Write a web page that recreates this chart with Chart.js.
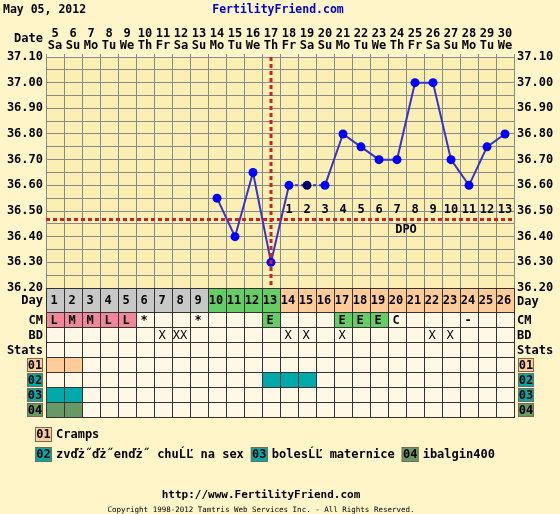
<!DOCTYPE html>
<html><head><meta charset="utf-8">
<script src="https://cdn.jsdelivr.net/npm/chart.js@4"></script>
<style>html,body{margin:0;padding:0;background:#FFF5C8;}canvas{display:block}</style>
</head><body>
<canvas id="c" width="560" height="514"></canvas>
<script>
const chartDate = 'May 05, 2012';
const dates = ['5','6','7','8','9','10','11','12','13','14','15','16','17','18','19','20','21','22','23','24','25','26','27','28','29','30'];
const weekdays = ['Sa','Su','Mo','Tu','We','Th','Fr','Sa','Su','Mo','Tu','We','Th','Fr','Sa','Su','Mo','Tu','We','Th','Fr','Sa','Su','Mo','Tu','We'];
const cycleDays = ['1','2','3','4','5','6','7','8','9','10','11','12','13','14','15','16','17','18','19','20','21','22','23','24','25','26'];
const temps = [null,null,null,null,null,null,null,null,null,36.55,36.40,36.65,36.30,36.60,36.60,36.60,36.80,36.75,36.70,36.70,37.00,37.00,36.70,36.60,36.75,36.80];
const discardedIndex = 14;
const coverline = 36.47;
const ovulationDay = 13;
const fertileStart = 10;
const dpo = ['','','','','','','','','','','','','','1','2','3','4','5','6','7','8','9','10','11','12','13'];
const cm = ['L','M','M','L','L','*','','','*','','','','E','','','','E','E','E','C','','','','-','',''];
const bd = ['','','','','','','X','XX','','','','','','X','X','','X','','','','','X','X','','',''];
const stat01 = [1,1,0,0,0,0,0,0,0,0,0,0,0,0,0,0,0,0,0,0,0,0,0,0,0,0];
const stat02 = [0,0,0,0,0,0,0,0,0,0,0,0,1,1,1,0,0,0,0,0,0,0,0,0,0,0];
const stat03 = [1,1,0,0,0,0,0,0,0,0,0,0,0,0,0,0,0,0,0,0,0,0,0,0,0,0];
const stat04 = [1,1,0,0,0,0,0,0,0,0,0,0,0,0,0,0,0,0,0,0,0,0,0,0,0,0];
const statCodes = ['01','02','03','04'];
const statNames = ['Cramps','zvďż˝ďż˝enďż˝ chuĹĽ na sex','bolesĹĽ maternice','ibalgin400'];
const tempMin = 36.20, tempMax = 37.10, tempStep = 0.05;

const F = (s) => 'bold ' + s + 'px "DejaVu Sans Mono"';
const statColors = ['#FFCC99','#00AAAA','#00AAAA','#669966'];
const statRows = [stat01, stat02, stat03, stat04];

const tablePlugin = {
  id: 'ff',
  beforeDraw(chart) {
    const {ctx, chartArea: a} = chart;
    ctx.save();
    ctx.fillStyle = '#FFF5C8';
    ctx.fillRect(0, 0, chart.width, chart.height);
    ctx.fillStyle = '#FCEFB4';
    ctx.fillRect(a.left, a.top, a.right - a.left, a.bottom - a.top);
    ctx.restore();
  },
  afterDatasetsDraw(chart) {
    const {ctx, chartArea: a, scales: {x, y}} = chart;
    ctx.save();
    ctx.strokeStyle = '#CC2222';
    ctx.lineWidth = 3;
    ctx.setLineDash([4, 3]);
    const cy = Math.round(y.getPixelForValue(coverline)) + 0.5;
    ctx.beginPath(); ctx.moveTo(a.left, cy); ctx.lineTo(a.right, cy); ctx.stroke();
    const ox = Math.round(x.getPixelForValue(ovulationDay - 1));
    ctx.beginPath(); ctx.moveTo(ox, a.top); ctx.lineTo(ox, a.bottom); ctx.stroke();
    ctx.setLineDash([]);
    ctx.fillStyle = '#000';
    ctx.font = F(12);
    ctx.textAlign = 'center';
    ctx.textBaseline = 'middle';
    dpo.forEach((t, i) => { if (t) ctx.fillText(t, x.getPixelForValue(i), cy - 10); });
    ctx.fillText('DPO', (x.getPixelForValue(19) + x.getPixelForValue(20)) / 2, cy + 10);
    ctx.restore();
  },
  afterDraw(chart) {
    const {ctx, chartArea: a, scales: {x}} = chart;
    const half = (x.getPixelForValue(1) - x.getPixelForValue(0)) / 2;
    ctx.save();
    ctx.textBaseline = 'middle';
    ctx.font = F(11.5);
    ctx.fillStyle = '#000';
    ctx.textAlign = 'left';
    ctx.fillText(chartDate, 3, 10);
    ctx.fillStyle = '#0000CC';
    ctx.textAlign = 'center';
    ctx.fillText('FertilityFriend.com', 278, 10);
    ctx.fillStyle = '#000';
    ctx.font = F(12);
    ctx.textAlign = 'right';
    ctx.fillText('Date', 43, 39);

    const top = a.bottom;
    const rows = [
      {label: 'Day', h: 24},
      {label: 'CM', h: 15},
      {label: 'BD', h: 15},
      {label: 'Stats', h: 15},
      {label: '01', h: 15, stat: 0},
      {label: '02', h: 15, stat: 1},
      {label: '03', h: 15, stat: 2},
      {label: '04', h: 15, stat: 3}
    ];
    let ry = top;
    rows.forEach((r) => { r.y = ry; ry += r.h; });
    const tableBottom = ry;
    cycleDays.forEach((d, i) => {
      const cx = x.getPixelForValue(i);
      const l = Math.round(cx - half), w = Math.round(half * 2);
      rows.forEach((r, ri) => {
        let fill = '#FFF8E6';
        if (ri === 0) {
          const dn = i + 1;
          fill = dn < fertileStart ? '#C8C8C8' : (dn <= ovulationDay ? '#66CC66' : '#FFCC99');
        } else if (ri === 1) {
          if (['L','M','H'].includes(cm[i])) fill = '#F0889A';
          else if (cm[i] === 'E') fill = '#66CC66';
        } else if (r.stat !== undefined) {
          if (statRows[r.stat][i]) fill = statColors[r.stat];
        }
        ctx.fillStyle = fill;
        ctx.fillRect(l, r.y, w, r.h);
      });
    });
    ctx.strokeStyle = '#333';
    ctx.lineWidth = 1;
    ctx.beginPath();
    rows.forEach((r) => { ctx.moveTo(a.left, r.y + 0.5); ctx.lineTo(a.right, r.y + 0.5); });
    ctx.moveTo(a.left, tableBottom + 0.5); ctx.lineTo(a.right, tableBottom + 0.5);
    for (let i = 0; i <= cycleDays.length; i++) {
      const bx = Math.round(x.getPixelForValue(0) - half + i * half * 2) + 0.5;
      ctx.moveTo(bx, top); ctx.lineTo(bx, tableBottom + 1);
    }
    ctx.stroke();
    ctx.fillStyle = '#000';
    ctx.font = F(12);
    ctx.textAlign = 'center';
    cycleDays.forEach((d, i) => {
      const cx = x.getPixelForValue(i) - 1;
      ctx.fillText(d, cx, rows[0].y + rows[0].h / 2 + 1);
      if (cm[i]) ctx.fillText(cm[i], cx, rows[1].y + rows[1].h / 2 + 1);
      if (bd[i]) { ctx.font = '12px "DejaVu Sans Mono"'; ctx.fillText(bd[i], cx, rows[2].y + rows[2].h / 2 + 1); ctx.font = F(12); }
    });
    rows.forEach((r) => {
      const my = r.y + r.h / 2 + 1;
      if (r.stat === undefined) {
        ctx.fillStyle = '#000';
        ctx.textAlign = 'right';
        ctx.fillText(r.label, 43, my);
        ctx.textAlign = 'left';
        ctx.fillText(r.label, 517, r.label === 'Day' ? my + 1 : my);
      } else {
        [27, 518].forEach((bx) => {
          ctx.fillStyle = statColors[r.stat];
          ctx.fillRect(bx, r.y + 1, 16, r.h - 1);
          ctx.strokeStyle = '#7a6a55';
          ctx.strokeRect(bx + 0.5, r.y + 1.5, 15, r.h - 2);
          ctx.fillStyle = '#000';
          ctx.textAlign = 'center';
          ctx.fillText(r.label, bx + 8, my);
        });
      }
    });
    const drawLegendItem = (k, lx, ly) => {
      ctx.fillStyle = statColors[k];
      ctx.fillRect(lx, ly - 7, 17, 15);
      ctx.strokeStyle = '#7a6a55';
      ctx.strokeRect(lx + 0.5, ly - 6.5, 16, 14);
      ctx.fillStyle = '#000';
      ctx.font = F(12);
      ctx.textAlign = 'center';
      ctx.fillText(statCodes[k], lx + 8.5, ly + 1);
      ctx.textAlign = 'left';
      ctx.font = F(12);
      ctx.fillText(statNames[k], lx + 21, ly + 1);
      return lx + 21 + ctx.measureText(statNames[k]).width + 7;
    };
    drawLegendItem(0, 35, 434);
    let lx = drawLegendItem(1, 35, 454);
    lx = drawLegendItem(2, lx, 454);
    drawLegendItem(3, lx, 454);
    ctx.fillStyle = '#000';
    ctx.textAlign = 'center';
    ctx.font = F(11);
    ctx.fillText('http://www.FertilityFriend.com', 261, 495);
    ctx.font = '7.5px "DejaVu Sans Mono"';
    ctx.fillText('Copyright 1998-2012 Tamtris Web Services Inc. - All Rights Reserved.', 261, 510);
    ctx.restore();
  }
};

const tickCb = (v) => (Math.round(v * 100) % 10 === 0 ? Number(v).toFixed(2) : '');

new Chart(document.getElementById('c'), {
  type: 'line',
  data: {
    labels: dates.map((d, i) => [d, weekdays[i]]),
    datasets: [{
      data: temps,
      borderColor: '#3535CC',
      borderWidth: 2,
      pointRadius: 4.5,
      pointHoverRadius: 4.5,
      pointBackgroundColor: temps.map((t, i) => i === discardedIndex ? '#000066' : '#0000FF'),
      pointBorderColor: temps.map((t, i) => i === discardedIndex ? '#000066' : '#0000FF'),
      pointBorderWidth: 0,
      tension: 0,
      segment: {
        borderDash: (c) => (c.p0DataIndex === discardedIndex || c.p1DataIndex === discardedIndex) ? [3, 3] : undefined
      }
    }]
  },
  options: {
    responsive: false,
    animation: false,
    events: [],
    layout: {padding: {top: 0, left: 0, right: 0, bottom: 226}},
    plugins: {legend: {display: false}, tooltip: {enabled: false}, title: {display: false}},
    scales: {
      x: {
        type: 'category',
        position: 'top',
        offset: true,
        grid: {offset: true, color: '#8a8a8a', lineWidth: 1, drawTicks: true, tickLength: 3},
        border: {color: '#8a8a8a'},
        ticks: {color: '#000', font: {family: 'DejaVu Sans Mono', size: 12, weight: 'bold', lineHeight: '12px'}, padding: 2, maxRotation: 0, autoSkip: false},
        afterFit(s) { s.height = 57; }
      },
      y: {
        position: 'left',
        min: tempMin, max: tempMax,
        grid: {color: '#8a8a8a', lineWidth: 1, drawTicks: false},
        border: {color: '#8a8a8a'},
        ticks: {stepSize: tempStep, callback: tickCb, color: '#000', font: {family: 'DejaVu Sans Mono', size: 12, weight: 'bold'}, padding: 3, autoSkip: false},
        afterFit(s) { s.width = 46; }
      },
      y2: {
        position: 'right',
        min: tempMin, max: tempMax,
        grid: {display: false, drawTicks: false},
        border: {color: '#8a8a8a'},
        ticks: {stepSize: tempStep, callback: tickCb, color: '#000', font: {family: 'DejaVu Sans Mono', size: 12, weight: 'bold'}, padding: 3, autoSkip: false},
        afterFit(s) { s.width = 46; }
      }
    }
  },
  plugins: [tablePlugin]
});
</script>
</body></html>
